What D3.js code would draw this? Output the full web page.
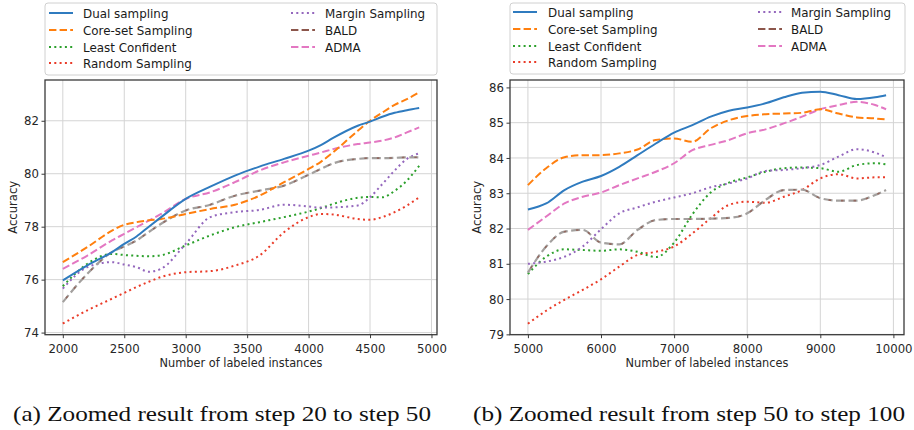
<!DOCTYPE html>
<html><head><meta charset="utf-8">
<script src="https://cdn.jsdelivr.net/npm/d3@7"></script>
<style>body{margin:0;background:#fff}svg{display:block}</style>
</head><body><svg id="c" width="914" height="430"></svg>
<script>
// ---------- data ----------
const seriesNames = ["Dual sampling","Core-set Sampling","Least Confident","Random Sampling","Margin Sampling","BALD","ADMA"];
const xLeft = [2000,2200,2400,2500,2600,2700,2800,3000,3200,3400,3600,3800,4000,4100,4200,4400,4500,4600,4700,4800,4900];
const leftDual    = [75.97,76.54,77.04,77.35,77.63,78.0,78.36,79.05,79.51,79.93,80.27,80.56,80.87,81.08,81.35,81.81,81.97,82.15,82.3,82.4,82.48];
const leftCoreset = [76.66,77.23,77.85,78.07,78.17,78.24,78.29,78.48,78.67,78.83,79.17,79.68,80.18,80.45,80.81,81.62,82.0,82.31,82.6,82.82,83.07];
const leftLeast   = [75.75,76.6,76.97,76.93,76.9,76.88,76.92,77.29,77.67,77.98,78.17,78.36,78.57,78.7,78.86,79.09,79.12,79.11,79.35,79.74,80.3];
const leftRandom  = [74.34,74.84,75.28,75.5,75.72,75.92,76.1,76.28,76.32,76.53,76.91,77.79,78.36,78.48,78.46,78.29,78.26,78.36,78.55,78.8,79.11];
const leftMargin  = [75.66,76.47,76.66,76.57,76.47,76.3,76.41,77.35,78.36,78.55,78.63,78.83,78.76,78.72,78.73,78.8,79.11,79.61,80.12,80.56,80.77];
const leftBald    = [75.15,76.22,77.04,77.25,77.48,77.8,78.11,78.61,78.83,79.17,79.36,79.55,79.96,80.18,80.39,80.56,80.59,80.59,80.6,80.62,80.62];
const leftAdma    = [76.41,76.91,77.48,77.73,77.98,78.23,78.48,79.05,79.3,79.68,80.12,80.43,80.68,80.8,80.93,81.12,81.18,81.25,81.37,81.56,81.75];

const xRight = [5000,5250,5500,5750,6000,6250,6500,6750,7000,7250,7500,7750,8000,8250,8500,8750,9000,9250,9500,9750,9900];
const rightDual    = [82.54,82.71,83.09,83.33,83.49,83.75,84.08,84.41,84.72,84.93,85.17,85.34,85.43,85.55,85.72,85.85,85.88,85.78,85.67,85.72,85.78];
const rightCoreset = [83.23,83.71,84.02,84.08,84.08,84.13,84.24,84.51,84.55,84.46,84.84,85.07,85.19,85.24,85.26,85.28,85.38,85.26,85.15,85.12,85.09];
const rightLeast   = [80.71,81.2,81.41,81.39,81.37,81.41,81.34,81.19,81.6,82.4,83.02,83.3,83.45,83.61,83.71,83.73,83.71,83.61,83.8,83.85,83.82];
const rightRandom  = [79.3,79.67,79.98,80.26,80.56,80.92,81.25,81.34,81.49,81.86,82.29,82.67,82.76,82.73,82.9,83.09,83.42,83.54,83.42,83.45,83.45];
const rightMargin  = [81.0,81.06,81.2,81.49,81.98,82.43,82.6,82.76,82.88,83.0,83.17,83.28,83.42,83.63,83.66,83.71,83.8,84.04,84.25,84.15,84.02];
const rightBald    = [80.75,81.49,81.91,81.96,81.6,81.55,81.96,82.24,82.27,82.27,82.28,82.3,82.43,82.81,83.09,83.1,82.86,82.79,82.79,82.95,83.09];
const rightAdma    = [81.96,82.34,82.71,82.9,83.02,83.23,83.42,83.61,83.85,84.22,84.37,84.51,84.7,84.81,84.98,85.17,85.38,85.5,85.59,85.5,85.38];

const xTicksLeft = [2000,2500,3000,3500,4000,4500,5000];
const yTicksLeft = [74,76,78,80,82];
const xTicksRight = [5000,6000,7000,8000,9000,10000];
const yTicksRight = [79,80,81,82,83,84,85,86];
const captions = ["(a) Zoomed result from step 20 to step 50","(b) Zoomed result from step 50 to step 100"];
const xLabel = "Number of labeled instances";
const yLabel = "Accuracy";

// ---------- styles ----------
const styles = {
  "Dual sampling":     {color:"#2f7bbf", dash:null},
  "Core-set Sampling": {color:"#ff7f0e", dash:"7.4,3.2"},
  "Least Confident":   {color:"#2ca02c", dash:"2,3.3"},
  "Random Sampling":   {color:"#ea3b28", dash:"2,3.3"},
  "Margin Sampling":   {color:"#9467bd", dash:"2,3.3"},
  "BALD":              {color:"#8c564b", dash:"7.4,3.2"},
  "ADMA":              {color:"#e377c2", dash:"7.4,3.2"}
};
const FONT = "DejaVu Sans, Verdana, sans-serif";
const SQ = 0.93;
function squeeze(sel){
  sel.each(function(){ const L=this.getComputedTextLength(); if(L>0){ this.setAttribute("textLength", L*SQ); this.setAttribute("lengthAdjust","spacingAndGlyphs"); }});
}

const svg = d3.select("#c");

function panel(cfg){
  const {x0,x1,y0,y1,xDom,yDom,xs,data,xTicks,yTicks,legend,yLabelX} = cfg;
  const x = d3.scaleLinear().domain(xDom).range([x0,x1]);
  const y = d3.scaleLinear().domain(yDom).range([y1,y0]);
  const g = svg.append("g");
  // grid
  g.append("g").selectAll("line").data(xTicks).join("line")
    .attr("x1",d=>x(d)).attr("x2",d=>x(d)).attr("y1",y0).attr("y2",y1)
    .attr("stroke","#d4d4d4").attr("stroke-width",1);
  g.append("g").selectAll("line").data(yTicks).join("line")
    .attr("y1",d=>y(d)).attr("y2",d=>y(d)).attr("x1",x0).attr("x2",x1)
    .attr("stroke","#d4d4d4").attr("stroke-width",1);
  // lines
  const id = "clip"+x0;
  svg.append("clipPath").attr("id",id).append("rect").attr("x",x0).attr("y",y0).attr("width",x1-x0).attr("height",y1-y0);
  const line = d3.line().x(d=>x(d[0])).y(d=>y(d[1])).curve(d3.curveMonotoneX);
  const lg = g.append("g").attr("clip-path",`url(#${id})`);
  const order = ["Random Sampling","Least Confident","Margin Sampling","BALD","ADMA","Core-set Sampling","Dual sampling"];
  order.forEach(name=>{
    const vals = data[name];
    const pts = xs.map((v,i)=>[v,vals[i]]);
    const st = styles[name];
    if(name==="BALD"){
      lg.append("path").attr("d",line(pts)).attr("fill","none").attr("stroke","#a3a09e")
        .attr("stroke-width",2.2).attr("stroke-dasharray","9,3.5");
      lg.append("path").attr("d",line(pts)).attr("fill","none").attr("stroke",st.color)
        .attr("stroke-width",1.6).attr("stroke-dasharray","2.5,10").attr("stroke-dashoffset",-5).attr("opacity",0.75);
    } else {
      lg.append("path").attr("d",line(pts)).attr("fill","none").attr("stroke",st.color)
        .attr("stroke-width",2).attr("stroke-dasharray",st.dash);
    }
  });
  // frame
  g.append("rect").attr("x",x0).attr("y",y0).attr("width",x1-x0).attr("height",y1-y0)
    .attr("fill","none").attr("stroke","#3a3a3a").attr("stroke-width",1.3);
  // axes
  const ax = g.append("g").attr("transform",`translate(0,${y1})`)
    .call(d3.axisBottom(x).tickValues(xTicks).tickFormat(d3.format("d")).tickSize(3.5).tickPadding(5.5));
  const ay = g.append("g").attr("transform",`translate(${x0},0)`)
    .call(d3.axisLeft(y).tickValues(yTicks).tickFormat(d3.format("d")).tickSize(3.5).tickPadding(2.5));
  [ax,ay].forEach(a=>{
    a.select(".domain").remove();
    a.selectAll(".tick line").attr("stroke","#3a3a3a").attr("stroke-width",1);
    a.selectAll("text").attr("font-family",FONT).attr("font-size",12.6).attr("fill","#262626").call(squeeze);
  });
  // axis labels
  g.append("text").attr("x",(x0+x1)/2).attr("y",367).attr("text-anchor","middle")
    .attr("font-family",FONT).attr("font-size",12.2).attr("fill","#262626").text(xLabel).call(squeeze);
  g.append("text").attr("transform",`translate(${yLabelX},${(y0+y1)/2}) rotate(-90)`).attr("text-anchor","middle")
    .attr("font-family",FONT).attr("font-size",11.6).attr("fill","#262626").text(yLabel);
  // legend
  const L = legend;
  g.append("rect").attr("x",L.x).attr("y",L.y).attr("width",L.w).attr("height",L.h).attr("rx",3)
    .attr("fill","#fff").attr("stroke","#d0d0d0").attr("stroke-width",1);
  const cols = [seriesNames.slice(0,4), seriesNames.slice(4)];
  cols.forEach((names,ci)=>{
    names.forEach((name,ri)=>{
      const yy = L.rows[ri]; const hx = L.hx[ci];
      const st = styles[name];
      g.append("line").attr("x1",hx).attr("x2",hx+24).attr("y1",yy).attr("y2",yy)
        .attr("stroke",st.color).attr("stroke-width",2).attr("stroke-dasharray",st.dash);
      g.append("text").attr("x",L.tx[ci]).attr("y",yy).attr("dy","0.36em")
        .attr("font-family",FONT).attr("font-size",12.8).attr("fill","#1a1a1a").text(name).call(squeeze);
    });
  });
}

panel({x0:45,x1:437,y0:80,y1:334.7,xDom:[1855,5045],yDom:[73.92,83.54],xs:xLeft,
  data:{"Dual sampling":leftDual,"Core-set Sampling":leftCoreset,"Least Confident":leftLeast,"Random Sampling":leftRandom,"Margin Sampling":leftMargin,"BALD":leftBald,"ADMA":leftAdma},
  xTicks:xTicksLeft,yTicks:yTicksLeft,yLabelX:16.5,
  legend:{x:45,y:3,w:392,h:72,rows:[13,30,47,63],hx:[49,291],tx:[83,325]}});
panel({x0:510,x1:904,y0:80,y1:334.7,xDom:[4755,10145],yDom:[78.99,86.21],xs:xRight,
  data:{"Dual sampling":rightDual,"Core-set Sampling":rightCoreset,"Least Confident":rightLeast,"Random Sampling":rightRandom,"Margin Sampling":rightMargin,"BALD":rightBald,"ADMA":rightAdma},
  xTicks:xTicksRight,yTicks:yTicksRight,yLabelX:481,
  legend:{x:510,y:3,w:395,h:71,rows:[12,29,46,62],hx:[513,758],tx:[548,791]}});

// captions
const capPos = [[13,418],[473,432]];
captions.forEach((c,i)=>{
  svg.append("text").attr("x",capPos[i][0]).attr("y",421).attr("font-family","'Liberation Serif', 'Times New Roman', serif")
    .attr("font-size",21.5).attr("fill","#111").attr("textLength",capPos[i][1]).attr("lengthAdjust","spacingAndGlyphs").text(c);
});
</script></body></html>
